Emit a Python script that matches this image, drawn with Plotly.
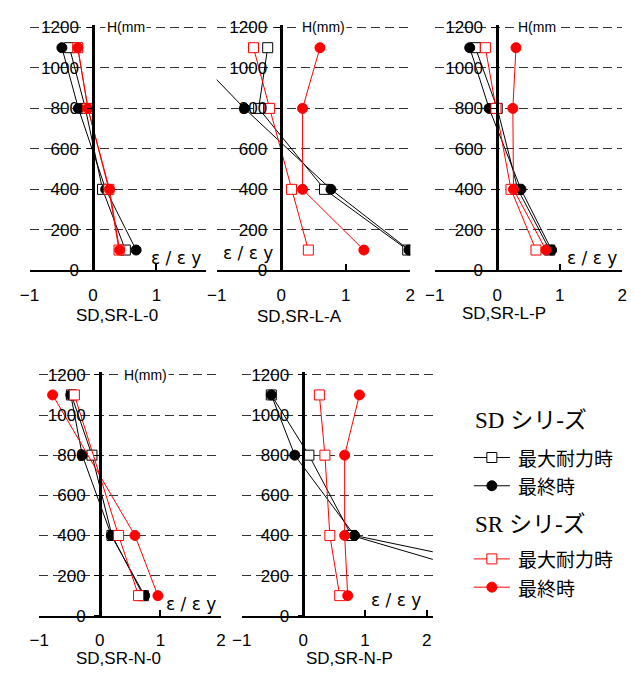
import plotly.graph_objects as go

W, H = 636, 682
heights = [100, 400, 800, 1100]

# SD,SR-L-0
l0_sd_max = [0.51, 0.15, -0.12, -0.37]
l0_sd_fin = [0.68, 0.20, -0.23, -0.49]
l0_sr_max = [0.41, 0.25, -0.08, -0.24]
l0_sr_fin = [0.42, 0.26, -0.08, -0.24]
# SD,SR-L-A
la_sd_max = [1.96, 0.67, -0.35, -0.21]
la_sd_fin = [1.98, 0.77, -0.57, -1.48]
la_sr_max = [0.42, 0.16, -0.18, -0.43]
la_sr_fin = [1.28, 0.33, 0.33, 0.60]
# SD,SR-L-P
lp_sd_max = [0.84, 0.33, 0.00, -0.35]
lp_sd_fin = [0.87, 0.38, -0.13, -0.44]
lp_sr_max = [0.62, 0.22, -0.02, -0.19]
lp_sr_fin = [0.78, 0.26, 0.25, 0.30]
# SD,SR-N-0
n0_sd_max = [0.72, 0.20, -0.13, -0.47]
n0_sd_fin = [0.74, 0.19, -0.29, -0.48]
n0_sr_max = [0.64, 0.31, None, -0.42]
n0_sr_fin = [0.96, 0.58, None, -0.78]
# SD,SR-N-P
np_sd_max = [4.1, 0.78, 0.09, -0.52]
np_sd_fin = [5.5, 0.83, -0.14, -0.52]
np_sr_max = [0.59, 0.43, 0.35, 0.26]
np_sr_fin = [0.72, 0.67, 0.67, 0.91]

y_ticks = [0, 200, 400, 600, 800, 1000, 1200]
x_ticks = [-1, 0, 1, 2]

panels = [
    dict(title="SD,SR-L-0", xr=[-1, 1.78], px=[20, 200.7], py=[270, 18.5],
         hl="H(mm", hlx=97, elx=142, ely=257, tx=110, ty=316,
         series=[l0_sd_max, l0_sd_fin, l0_sr_max, l0_sr_fin]),
    dict(title="SD,SR-L-A", xr=[-1, 2], px=[211.7, 410], py=[270, 18.5],
         hl="H(mm)", hlx=297, elx=216, ely=252, tx=297, ty=317,
         series=[la_sd_max, la_sd_fin, la_sr_max, la_sr_fin]),
    dict(title="SD,SR-L-P", xr=[-1, 2], px=[435, 627], py=[270, 18.5],
         hl="H(mm", hlx=518, elx=568, ely=257, tx=506, ty=314,
         series=[lp_sd_max, lp_sd_fin, lp_sr_max, lp_sr_fin]),
    dict(title="SD,SR-N-0", xr=[-1, 2], px=[30, 216], py=[624.3, 374.8],
         hl="H(mm)", hlx=115, elx=158, ely=612, tx=111, ty=668,
         series=[n0_sd_max, n0_sd_fin, n0_sr_max, n0_sr_fin]),
    dict(title="SD,SR-N-P", xr=[-1, 2.1], px=[237.3, 433], py=[624.3, 374.8],
         hl=None, hlx=0, elx=368, ely=608, tx=348, ty=668,
         series=[np_sd_max, np_sd_fin, np_sr_max, np_sr_fin]),
]

styles = [
    dict(color="black", symbol="square", fill="white", size=10),
    dict(color="black", symbol="circle", fill="black", size=10),
    dict(color="red", symbol="square", fill="white", size=10),
    dict(color="red", symbol="circle", fill="red", size=10),
]

FONT = "Liberation Sans, Arial, sans-serif"
fig = go.Figure()
annotations = []
layout = dict(width=W, height=H, margin=dict(l=0, r=0, t=0, b=0),
              paper_bgcolor="white", plot_bgcolor="white", showlegend=False,
              font=dict(family=FONT, size=17, color="black"))

for i, p in enumerate(panels, start=1):
    xs = "" if i == 1 else str(i)
    xd = [p["px"][0] / W, p["px"][1] / W]
    yd = [1 - p["py"][0] / H, 1 - p["py"][1] / H]
    zero_px = p["px"][0] + (0 - p["xr"][0]) / (p["xr"][1] - p["xr"][0]) * (p["px"][1] - p["px"][0])
    layout["xaxis" + xs] = dict(domain=xd, range=p["xr"], anchor="y" + xs,
                                showgrid=False, zeroline=False, showline=True,
                                linecolor="black", linewidth=2, ticks="inside",
                                ticklen=6, tickwidth=1.5, tickcolor="black",
                                tickvals=x_ticks, ticklabelstandoff=8,
                                tickfont=dict(size=17))
    layout["yaxis" + xs] = dict(domain=yd, range=[0, 1212], anchor="free",
                                position=zero_px / W, showgrid=True,
                                gridcolor="#333333", griddash="9px,5px", gridwidth=1,
                                zeroline=False, showline=True, linecolor="black",
                                linewidth=2.5, ticks="outside", ticklen=5,
                                tickcolor="black", tickvals=y_ticks,
                                ticklabelstandoff=5, tickfont=dict(size=17))
    for vals, st in zip(p["series"], styles):
        fig.add_trace(go.Scatter(
            x=vals, y=heights, mode="lines+markers", connectgaps=True,
            xaxis="x" + xs, yaxis="y" + xs,
            line=dict(color=st["color"], width=1),
            marker=dict(symbol=st["symbol"], size=st["size"], color=st["fill"],
                        line=dict(color=st["color"], width=1))))
    if p["hl"]:
        annotations.append(dict(text=p["hl"], xref="paper", yref="paper",
                                x=p["hlx"] / W, y=1 - (p["py"][0] - 1200 * (p["py"][0] - p["py"][1]) / 1212) / H,
                                xanchor="left", yanchor="middle", showarrow=False,
                                bgcolor="white", font=dict(size=14)))
    annotations.append(dict(text="ε / ε y", xref="paper", yref="paper",
                            x=p["elx"] / W, y=1 - p["ely"] / H, xanchor="left",
                            yanchor="middle", showarrow=False,
                            font=dict(size=17, family="DejaVu Sans, sans-serif")))
    annotations.append(dict(text=p["title"], xref="paper", yref="paper",
                            x=p["tx"] / W, y=1 - p["ty"] / H, xanchor="center",
                            yanchor="middle", showarrow=False, font=dict(size=17)))

# legend area
LX0, LX1, LY0, LY1 = 455, 636, 405, 615
layout["xaxis6"] = dict(domain=[LX0 / W, LX1 / W], range=[LX0, LX1], anchor="y6", visible=False)
layout["yaxis6"] = dict(domain=[1 - LY1 / H, 1 - LY0 / H], range=[LY1, LY0], anchor="x6", visible=False)

legend_groups = [("SD シリ-ズ", 424), ("SR シリ-ズ", 531)]
legend_items = [("最大耐力時", 462, styles[0]), ("最終時", 491, styles[1]),
                ("最大耐力時", 566, styles[2]), ("最終時", 595, styles[3])]
for label, yy in legend_groups:
    annotations.append(dict(text=label, xref="x6", yref="y6", x=474, y=yy,
                            xanchor="left", yanchor="middle", showarrow=False,
                            font=dict(size=23, family="Liberation Serif, Noto Sans CJK JP, serif")))
for label, yy, st in legend_items:
    fig.add_trace(go.Scatter(x=[475, 493.5, 512], y=[yy, yy, yy], mode="lines",
                             xaxis="x6", yaxis="y6", line=dict(color=st["color"], width=1)))
    fig.add_trace(go.Scatter(x=[493.5], y=[yy], mode="markers", xaxis="x6", yaxis="y6",
                             marker=dict(symbol=st["symbol"], size=st["size"], color=st["fill"],
                                         line=dict(color=st["color"], width=1))))
    annotations.append(dict(text=label, xref="x6", yref="y6", x=518, y=yy,
                            xanchor="left", yanchor="middle", showarrow=False,
                            font=dict(size=19, family="Noto Sans CJK JP, sans-serif")))

layout["annotations"] = annotations
fig.update_layout(**layout)
fig.write_html("out.html")
